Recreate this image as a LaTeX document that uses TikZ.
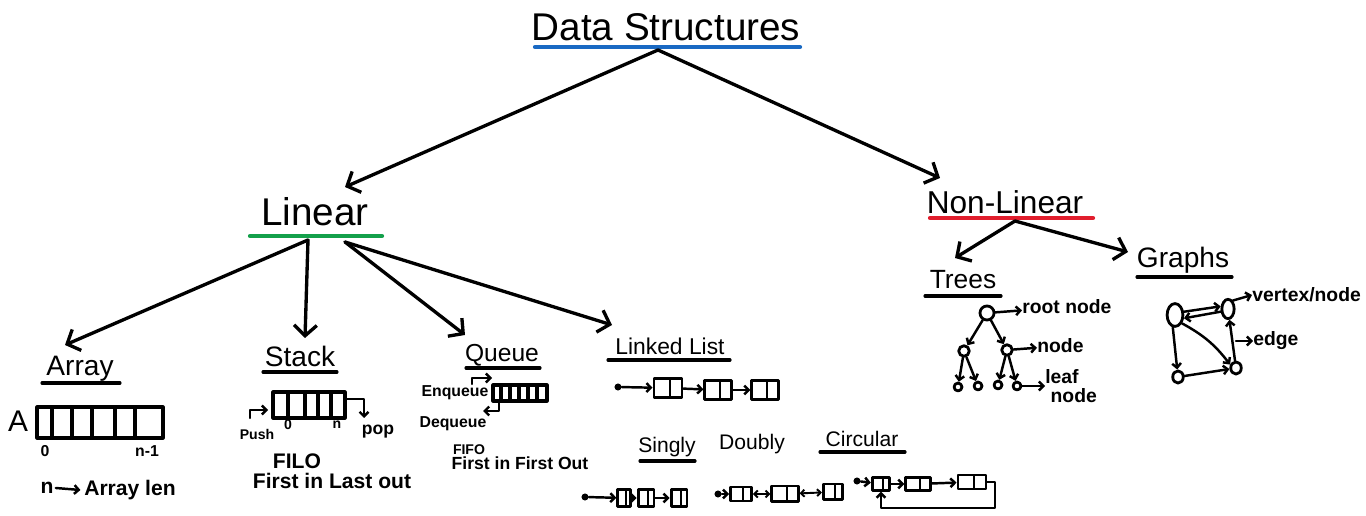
\documentclass[tikz,border=0pt]{standalone}
\usepackage{fontspec}
\setmainfont{Liberation Sans}
\usetikzlibrary{arrows.meta,shapes.geometric}

\definecolor{dsblue}{RGB}{25,105,195}
\definecolor{lingreen}{RGB}{20,160,75}
\definecolor{nlred}{RGB}{225,30,45}

\begin{document}
\begin{tikzpicture}[x=0.02cm, y=-0.02cm, line cap=round, line join=round,
    branch/.style={line width=1.9pt, -{Straight Barb[length=6pt,width=13pt]}},
    ptr/.style={line width=1.4pt, -{Straight Barb[length=2.5pt,width=5pt]}},
    dptr/.style={line width=1.1pt, {Straight Barb[length=2pt,width=4pt]}-{Straight Barb[length=2pt,width=4pt]}},
    ink/.style={line width=1.8pt},
    under/.style={line width=1.8pt},
    hwhead/.style={font=\fontsize{#1}{#1}\selectfont, inner sep=0pt},
    hwsmall/.style={font=\bfseries\fontsize{#1}{#1}\selectfont, inner sep=0pt},
    llbox/.style 2 args={draw, line width=1.6pt, inner sep=0pt, minimum width=#1, minimum height=#2,
      path picture={\draw[line width=1.2pt] ([xshift=1pt]path picture bounding box.north) -- ([xshift=1pt]path picture bounding box.south);}},
    headdot/.style={circle, fill, inner sep=0pt, minimum size=4pt},
    tnode/.style={draw, circle, line width=1.6pt, inner sep=0pt, minimum size=#1},
    gvert/.style 2 args={draw, ellipse, line width=1.6pt, inner sep=0pt, minimum width=#1, minimum height=#2}]
  \useasboundingbox (0,0) rectangle (1366,516);

  % --- Titel og de to hovedgrene ---
  \node[hwhead=22] (ds) at (666,27) {Data Structures};
  \draw[dsblue, line width=2.4pt] (535,47) -- (800,47);
  \coordinate (ds-hub) at (658,50);
  \coordinate (lin-tip) at (345,187);
  \coordinate (nl-tip) at (940,178);
  \draw[branch] (ds-hub) -- (lin-tip);
  \draw[branch] (ds-hub) -- (nl-tip);

  \node[hwhead=22] (lin) at (315,212) {Linear};
  \draw[lingreen, line width=2.4pt] (250,236) -- (382,236);
  \node[hwhead=18] (nonlin) at (1005,202) {Non-Linear};
  \draw[nlred, line width=2.4pt] (930,218) -- (1093,218);

  % --- Linear: grene ---
  \coordinate (lin-hub) at (308,240);
  \coordinate (lin-hub2) at (345,242);
  \coordinate (arr-tip) at (65,345);
  \coordinate (stk-tip) at (305,338);
  \coordinate (que-tip) at (465,335);
  \coordinate (ll-tip) at (612,325);
  \draw[branch] (lin-hub) -- (arr-tip);
  \draw[branch] (lin-hub) -- (stk-tip);
  \draw[branch] (lin-hub2) -- (que-tip);
  \draw[branch] (lin-hub2) -- (ll-tip);

  % --- Array ---
  \node[hwhead=16] (arr) at (80,369) {Array};
  \draw[under] (42,383) -- (120,383);
  \node[hwhead=17] (arr-a) at (18,421) {A};
  \draw[ink] (37,407) rectangle (163,438);
  \foreach \x in {52,72,92,115,135} \draw[ink] (\x,407) -- (\x,438);
  \node[hwsmall=9] (arr-lo) at (45,451) {0};
  \node[hwsmall=9] (arr-hi) at (147,451) {n-1};
  \node[hwsmall=12] (arr-n) at (47,488) {n};
  \node[hwsmall=12] (arr-len) at (130,490) {Array len};
  \draw[ptr] (arr-n.east) ++(2,0) -- ([xshift=-2pt]arr-len.west);

  % --- Stack ---
  \node[hwhead=16] (stk) at (300,356) {Stack};
  \draw[under] (263,372) -- (337,372);
  \draw[ink] (273,392) rectangle (345,418);
  \foreach \x in {288,305,318,331} \draw[ink] (\x,392) -- (\x,418);
  \node[hwsmall=8] (stk-push) at (257,434) {Push};
  \node[hwsmall=8] (stk-lo) at (288,425) {0};
  \node[hwsmall=8] (stk-n) at (337,425) {n};
  \node[hwsmall=10] (stk-pop) at (378,432) {pop};
  \draw[ptr] (250,418) |- (268,410);
  \draw[ptr] (347,399) -| (364,418);
  \node[hwsmall=12] (stk-filo) at (297,461) {FILO};
  \node[hwsmall=12] (stk-desc) at (332,481) {First in Last out};

  % --- Queue ---
  \node[hwhead=14] (que) at (502,355) {Queue};
  \draw[under] (466,368) -- (540,368);
  \draw[ink] (493,385) rectangle (547,401);
  \foreach \x in {501,510,519,528,537} \draw[ink] (\x,385) -- (\x,401);
  \node[hwsmall=9] (que-enq) at (455,393) {Enqueue};
  \node[hwsmall=9] (que-deq) at (453,424) {Dequeue};
  \draw[ptr] (472,384) |- (492,378);
  \draw[ptr] (499,402) |- (483,411);
  \node[hwsmall=8] (que-fifo) at (469,450) {FIFO};
  \node[hwsmall=10] (que-desc) at (520,463) {First in First Out};

  % --- Linked List ---
  \node[hwhead=13] (ll) at (670,346) {Linked List};
  \draw[under] (608,360) -- (730,360);
  \node[headdot] (ll-h) at (618,387) {};
  \node[llbox={16pt}{11pt}] (ll-a) at (668,388) {};
  \node[llbox={15pt}{11pt}] (ll-b) at (718,390) {};
  \node[llbox={15pt}{11pt}] (ll-c) at (765,390) {};
  \draw[ptr] (ll-h) -- (ll-a);
  \draw[ptr] (ll-a) -- (ll-b);
  \draw[ptr] (ll-b) -- (ll-c);

  \node[hwhead=12] (ll-s) at (667,447) {Singly};
  \draw[under] (640,461) -- (695,461);
  \node[hwhead=12] (ll-d) at (752,444) {Doubly};
  \node[hwhead=12] (ll-cir) at (862,439) {Circular};
  \draw[under] (820,452) -- (905,452);

  % singly
  \node[headdot] (s-h) at (585,497) {};
  \node[llbox={7pt}{10pt}] (s-a) at (624,498) {};
  \node[llbox={9pt}{10pt}] (s-b) at (646,498) {};
  \node[llbox={9pt}{10pt}] (s-c) at (679,498) {};
  \draw[ptr] (s-h) -- (s-a);
  \draw[ptr] (s-a) -- (s-b);
  \draw[ptr] (s-b) -- (s-c);

  % doubly
  \node[headdot] (d-h) at (718,494) {};
  \node[llbox={12pt}{8pt}] (d-a) at (741,494) {};
  \node[llbox={15pt}{9pt}] (d-b) at (785,494) {};
  \node[llbox={11pt}{9pt}] (d-c) at (833,492) {};
  \draw[ptr] (d-h) -- (d-a);
  \draw[dptr] (d-a) -- (d-b);
  \draw[dptr] (d-b) -- (d-c);

  % circular
  \node[headdot] (c-h) at (857,481) {};
  \node[llbox={10pt}{7pt}] (c-a) at (881,484) {};
  \node[llbox={14pt}{7pt}] (c-b) at (918,484) {};
  \node[llbox={16pt}{8pt}] (c-c) at (972,482) {};
  \draw[ptr] (c-h) -- (c-a);
  \draw[ptr] (c-a) -- (c-b);
  \draw[ptr] (c-b) -- (c-c);
  \coordinate (c-back) at (995,508);
  \draw[ptr] (c-c.east) -| (c-back) -| (c-a.south);

  % --- Non-Linear: grene ---
  \coordinate (nl-hub) at (1015,221);
  \coordinate (tr-tip) at (955,258);
  \coordinate (gr-tip) at (1128,252);
  \draw[branch] (nl-hub) -- (tr-tip);
  \draw[branch] (nl-hub) -- (gr-tip);

  % --- Trees ---
  \node[hwhead=15] (tr) at (963,280) {Trees};
  \draw[under] (925,296) -- (1001,296);
  \node[tnode=8pt] (t-root) at (987,313) {};
  \node[tnode=6pt] (t-a) at (964,351) {};
  \node[tnode=6pt] (t-b) at (1007,350) {};
  \node[tnode=4.5pt] (t-a1) at (958,387) {};
  \node[tnode=4.5pt] (t-a2) at (978,386) {};
  \node[tnode=4.5pt] (t-b1) at (998,385) {};
  \node[tnode=4.5pt] (t-b2) at (1017,386) {};
  \draw[ptr] (t-root) -- (t-a);
  \draw[ptr] (t-root) -- (t-b);
  \draw[ptr] (t-a) -- (t-a1);
  \draw[ptr] (t-a) -- (t-a2);
  \draw[ptr] (t-b) -- (t-b1);
  \draw[ptr] (t-b) -- (t-b2);
  \node[hwsmall=11, anchor=west] (tr-root) at (1022,307) {root node};
  \node[hwsmall=11, anchor=west] (tr-node) at (1037,346) {node};
  \node[hwsmall=11, anchor=west, align=left] (tr-leaf) at (1045,386) {leaf\\\hspace{3pt}node};
  \draw[ptr] (t-root) -- (tr-root);
  \draw[ptr] (t-b) -- (tr-node);
  \draw[ptr] (t-b2) -- (t-b2 -| tr-leaf.west);

  % --- Graphs ---
  \node[hwhead=16] (gr) at (1183,260) {Graphs};
  \draw[under] (1137,277) -- (1232,277);
  \node[gvert={9pt}{13pt}] (g-1) at (1175,315) {};
  \node[gvert={7pt}{11pt}] (g-2) at (1228,309) {};
  \node[gvert={6pt}{7pt}] (g-3) at (1178,377) {};
  \node[gvert={6pt}{7pt}] (g-4) at (1236,368) {};
  \draw[ptr] (g-1.20) -- (g-2.160);
  \draw[ptr] (g-2.200) -- (g-1.-20);
  \draw[ptr] (g-1.-100) -- (g-3);
  \draw[ptr] (g-1.-50) to[bend left=12] (g-4.150);
  \draw[ptr] (g-3) -- (g-4);
  \draw[ptr] (g-4) -- (g-2);
  \node[hwsmall=11, anchor=west] (gr-vx) at (1252,295) {vertex/node};
  \node[hwsmall=11, anchor=west] (gr-edge) at (1253,341) {edge};
  \coordinate (gr-e) at (1236,341);
  \draw[ptr] (g-2.60) -- (gr-vx.west);
  \draw[ptr] (gr-e) -- (gr-edge.west);
\end{tikzpicture}
\end{document}
